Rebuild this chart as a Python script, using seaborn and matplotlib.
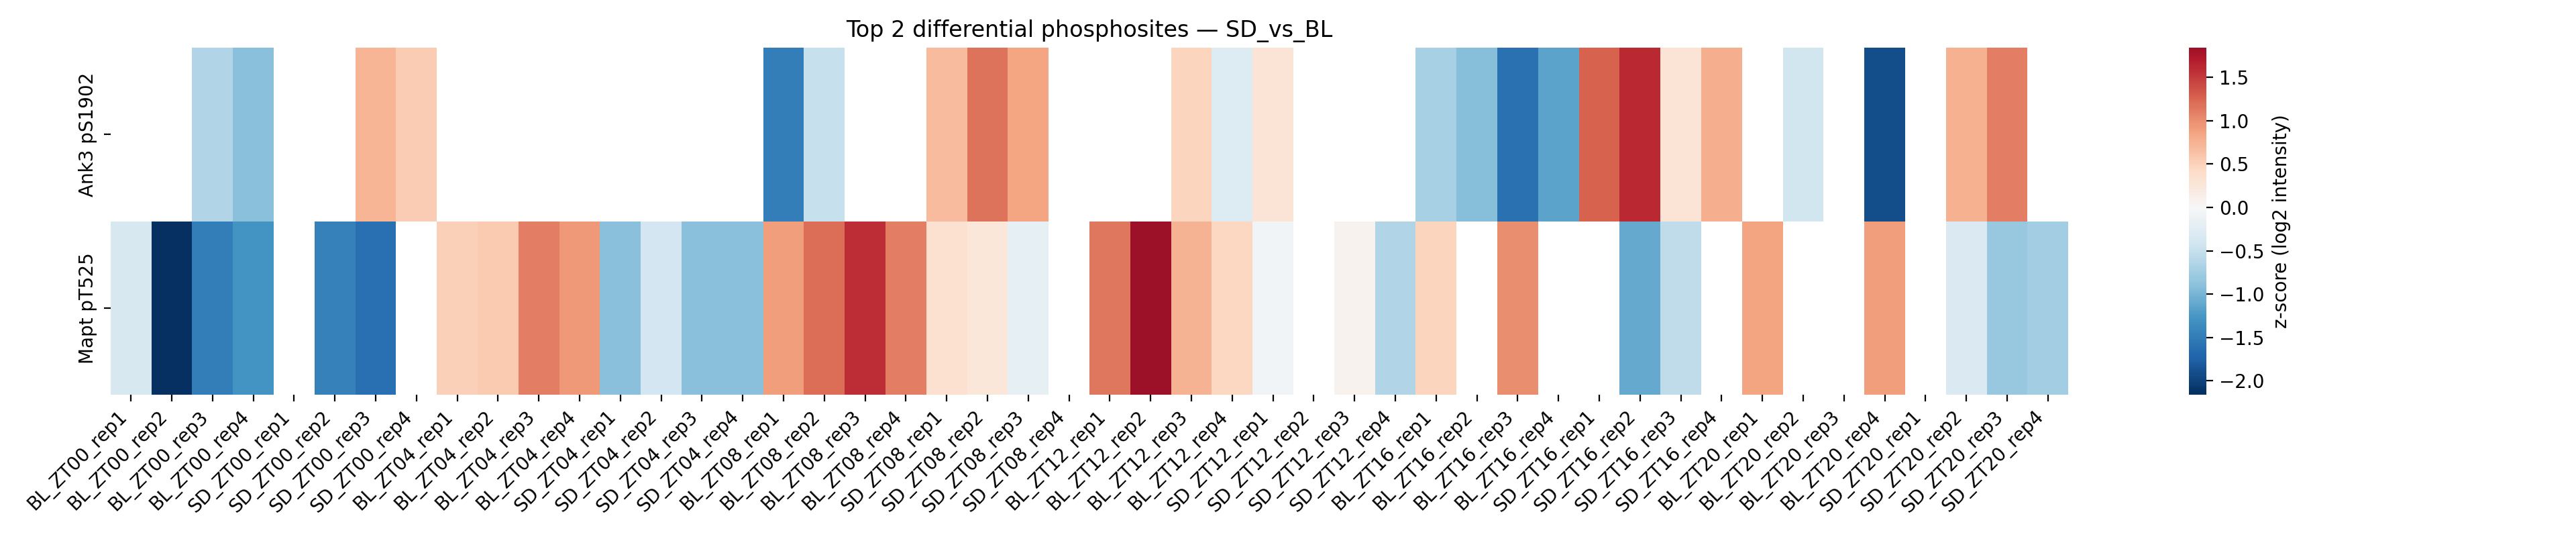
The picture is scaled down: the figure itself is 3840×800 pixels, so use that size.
import numpy as np
import pandas as pd
import matplotlib
matplotlib.use("Agg")
import matplotlib.pyplot as plt
import seaborn as sns

nan = np.nan

groups = ["BL", "SD"]
timepoints = ["ZT00", "ZT04", "ZT08", "ZT12", "ZT16", "ZT20"]
reps = ["rep1", "rep2", "rep3", "rep4"]
samples = [f"{g}_{t}_{r}" for t in timepoints for g in groups for r in reps]

sites = ["Ank3 pS1902", "Mapt pT525"]

ank3 = [nan, nan, -0.65, -0.90, nan, nan, 0.72, 0.55,
        nan, nan, nan, nan, nan, nan, nan, nan,
        -1.48, -0.50, nan, nan, 0.68, 1.18, 0.84, nan,
        nan, nan, 0.48, -0.30, 0.30, nan, nan, nan,
        -0.72, -0.92, -1.60, -1.15, 1.27, 1.61, 0.30, 0.78,
        nan, -0.42, nan, -1.90, nan, 0.77, 1.10, nan]

mapt = [-0.35, -2.16, -1.50, -1.30, nan, -1.45, -1.62, nan,
        0.52, 0.56, 1.10, 0.92, -0.90, -0.40, -0.90, -0.90,
        0.90, 1.20, 1.58, 1.10, 0.35, 0.25, -0.20, nan,
        1.15, 1.84, 0.75, 0.45, -0.07, nan, 0.08, -0.65,
        0.48, nan, 1.00, nan, nan, -1.10, -0.55, nan,
        0.86, nan, nan, 0.90, nan, -0.33, -0.82, -0.75]

df = pd.DataFrame([ank3, mapt], index=sites, columns=samples)

fig = plt.figure(figsize=(19.2, 4), dpi=200)
ax = fig.add_axes([0.0429, 0.265, 0.760, 0.646])
cax = fig.add_axes([0.8497, 0.265, 0.0068, 0.646])

sns.heatmap(df, cmap="RdBu_r", center=0, ax=ax, cbar_ax=cax,
            cbar_kws={"label": "z-score (log2 intensity)"})

ax.set_title("Top 2 differential phosphosites — SD_vs_BL")
plt.setp(ax.get_xticklabels(), rotation=45, ha="right")
ax.set_xlabel("")
ax.set_ylabel("")

fig.savefig("out.png", dpi=200)
